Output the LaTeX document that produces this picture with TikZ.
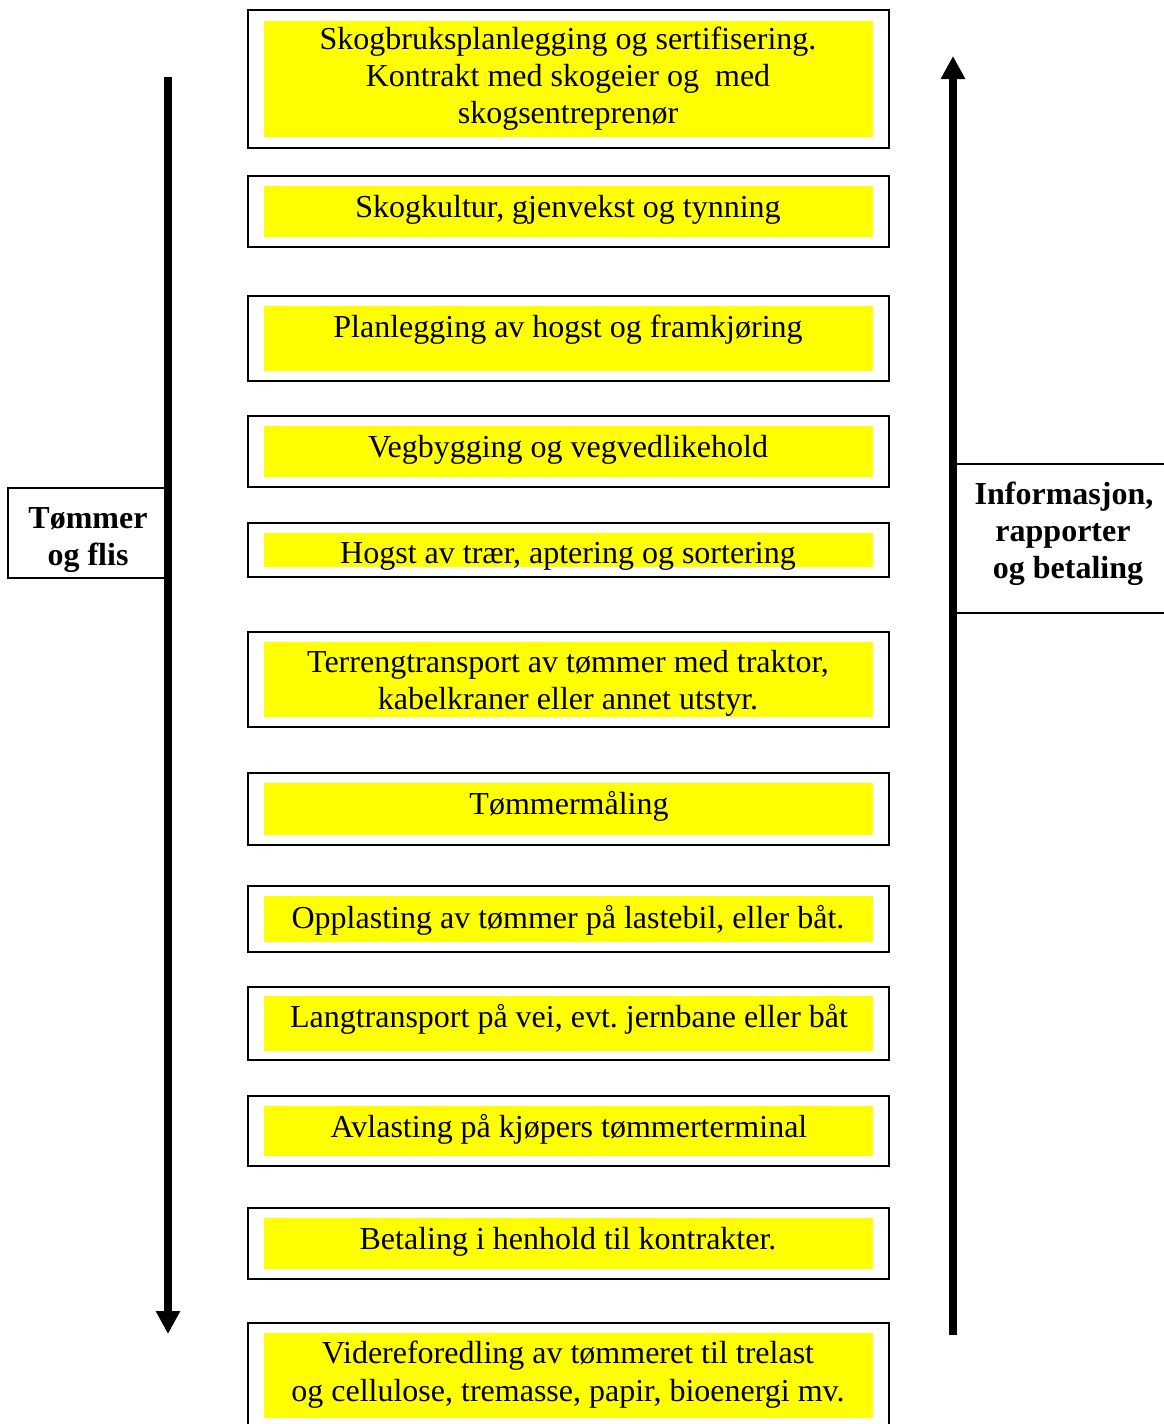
\documentclass[tikz,border=0pt]{standalone}
\usepackage{fontspec}
\setmainfont{Liberation Serif}
\usetikzlibrary{arrows.meta,fit}
\definecolor{boxyellow}{RGB}{255,255,0}
\frenchspacing
\begin{document}
\begin{tikzpicture}[x=1pt,y=-1pt,
  outerbox/.style={draw=black, line width=1.6pt, fill=white, inner sep=0pt},
  yelbox/.style={fill=boxyellow, draw=none, inner sep=0pt},
  txt/.style={font=\fontsize{32}{37}\selectfont, anchor=base, inner sep=0pt},
  lbl/.style={font=\fontsize{32}{37}\selectfont\bfseries, anchor=base, inner sep=0pt},
  bigarrow/.style={line width=7.5pt, -{Triangle[width=23pt,length=23pt]}}]
\useasboundingbox (0,0) rectangle (1163,1424);
\newcommand\flowbox[5]{%
  \node[outerbox, fit={(248,#2) (889,#3)}] (#1) {};
  \node[yelbox, fit={(264,#4) (873,#5)}] (#1y) {};}
% boxes
\flowbox{b1}{10}{148}{21}{137}
\flowbox{b2}{176}{247}{186}{237}
\flowbox{b3}{296}{381}{306}{371}
\flowbox{b4}{416}{487}{426}{477}
\flowbox{b5}{523}{577}{533}{567}
\flowbox{b6}{632}{727}{642}{717}
\flowbox{b7}{773}{845}{783}{835}
\flowbox{b8}{886}{952}{896}{942}
\flowbox{b9}{987}{1060}{996}{1051}
\flowbox{b10}{1096}{1166}{1106}{1156}
\flowbox{b11}{1208}{1279}{1218}{1269}
\flowbox{b12}{1323}{1440}{1333}{1418}
% texts
\node[txt] (t1a) at (568,49) {Skogbruksplanlegging og sertifisering.};
\node[txt] (t1b) at (568,86) {Kontrakt med skogeier og\ \ med};
\node[txt] (t1c) at (568,123) {skogsentreprenør};
\node[txt] (t2) at (568,217) {Skogkultur, gjenvekst og tynning};
\node[txt] (t3) at (568,337) {Planlegging av hogst og framkjøring};
\node[txt] (t4) at (568,457) {Vegbygging og vegvedlikehold};
\node[txt] (t5) at (568,563) {Hogst av trær, aptering og sortering};
\node[txt] (t6a) at (568,672) {Terrengtransport av tømmer med traktor,};
\node[txt] (t6b) at (568,709) {kabelkraner eller annet utstyr.};
\node[txt] (t7) at (569,814) {Tømmermåling};
\node[txt] (t8) at (568,928) {Opplasting av tømmer på lastebil, eller båt.};
\node[txt] (t9) at (569,1027) {Langtransport på vei, evt. jernbane eller båt};
\node[txt] (t10) at (569,1137) {Avlasting på kjøpers tømmerterminal};
\node[txt] (t11) at (568,1249) {Betaling i henhold til kontrakter.};
\node[txt] (t12a) at (568,1363) {Videreforedling av tømmeret til trelast};
\node[txt] (t12b) at (568,1401) {og cellulose, tremasse, papir, bioenergi mv.};
% side labels
\node[outerbox, fit={(8,488) (167,578)}] (lbox) {};
\node[lbl] (l1) at (88,528) {Tømmer};
\node[lbl] (l2) at (88,565) {og flis};
\node[outerbox, fit={(953,464) (1180,613)}] (rbox) {};
\node[lbl] (r1) at (1064,504) {Informasjon,};
\node[lbl] (r2) at (1063,541) {rapporter};
\node[lbl] (r3) at (1068,578) {og betaling};
% arrows
\coordinate (lstart) at (168,77);
\coordinate (lend) at (168,1334);
\coordinate (rstart) at (953,1335);
\coordinate (rend) at (953,56);
\draw[bigarrow] (lstart) -- (lend);
\draw[bigarrow] (rstart) -- (rend);
\end{tikzpicture}
\end{document}
